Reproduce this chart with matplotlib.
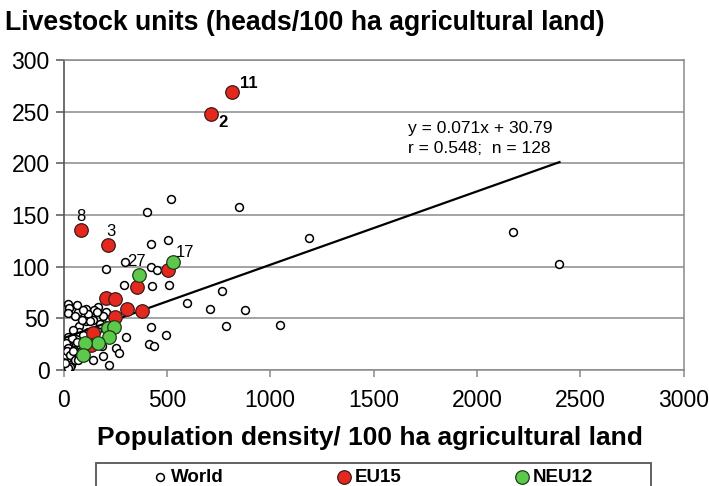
import matplotlib
matplotlib.use('Agg')
import matplotlib.pyplot as plt
from matplotlib.patches import Rectangle
import numpy as np

plt.rcParams['font.family'] = ['Liberation Sans', 'DejaVu Sans']

# world countries (hollow)
world_x = [520, 402, 849, 204, 297, 423, 504, 423, 451, 2176, 2399, 1188, 1047,
           427, 512, 765, 599, 709, 878, 423, 786, 496, 414, 439, 294, 302, 222,
           190, 254, 270, 206, 165, 149, 109, 117, 69, 20, 25, 141, 109, 77, 77,
           117, 190, 20, 45, 12, 60, 20, 52, 12, 45, 4, 36, 9, 77, 193, 64, 23,
           40, 64, 15, 31, 31, 56, 144, 185, 96, 144, 72, 0, 23, 7, 47, 128, 161,
           47, 88, 56, 96, 161, 177]
world_y = [165, 153, 158, 98, 105, 122, 126, 100, 97, 134, 103, 128, 44,
           81, 82, 76, 65, 59, 58, 42, 43, 34, 25, 23, 82, 32, 5,
           14, 21, 16, 56, 61, 58, 59, 54, 56, 64, 60, 48, 47, 43, 37,
           37, 45, 32, 29, 26, 24, 21, 19, 14.5, 13, 6.5, 5, 1.6, 14.5, 52, 63, 55,
           31, 27, 18, 15, 3, 10, 10, 23, 34, 29, 10, 3, 2, 7, 18, 47, 39,
           39, 48, 52, 58, 56, 45]

# EU15
eu15_x = [817, 712, 83, 217, 507, 355, 206, 251, 307, 380, 251, 141, 133]
eu15_y = [269, 248, 135.5, 121, 97, 80, 69.4, 68.7, 59.5, 57, 51.6, 35.5, 24]

# NEU12
neu12_x = [530, 367, 214, 246, 219, 165, 105, 93]
neu12_y = [105, 92, 41, 42, 32, 26, 26, 14.5]

# country number labels: (text, group, index)
point_labels = [('11', 'eu', 0), ('2', 'eu', 1), ('8', 'eu', 2), ('3', 'eu', 3),
                ('17', 'neu', 0), ('27', 'neu', 1)]

slope, intercept = 0.071, 30.79
r_val, n_val = 0.548, 128

fig = plt.figure(figsize=(7.09, 4.86), dpi=100)
ax = fig.add_axes([63.5/709, 116/486, 620/709, 310/486])

grey = '#8a8a8a'
ax.set_xlim(0, 3000)
ax.set_ylim(0, 300)
ax.set_xticks(np.arange(0, 3001, 500))
ax.set_yticks(np.arange(0, 301, 50))
ax.yaxis.grid(True, color=grey, lw=1.1)
ax.set_axisbelow(True)
for s in ['top', 'right', 'bottom']:
    ax.spines[s].set_color(grey)
    ax.spines[s].set_linewidth(1.1)
ax.spines['left'].set_color('#555555')
ax.spines['left'].set_linewidth(1.2)
ax.tick_params(axis='y', direction='out', length=6, width=1.1, color='#555555',
               labelsize=16.5, pad=4)
ax.tick_params(axis='x', direction='out', length=5, width=1.1, color=grey,
               labelsize=16.5, pad=9)

ax.scatter(world_x, world_y, s=32, facecolor='white', edgecolor='black',
           linewidth=1.1, zorder=3, label='World')
xx = np.array([0, 2400])
ax.plot(xx, slope*xx + intercept, color='black', lw=1.6, zorder=4)
ax.scatter(eu15_x, eu15_y, s=95, facecolor='#e5281e', edgecolor='#3a1a1a',
           linewidth=0.9, zorder=5, label='EU15')
ax.scatter(neu12_x, neu12_y, s=95, facecolor='#5cc94a', edgecolor='#1f3a1a',
           linewidth=0.9, zorder=6, label='NEU12')

offsets = {'11': (11.5, 6.5), '2': (9, -6), '8': (0, 10), '3': (2, 9.5),
           '17': (8.6, 6.5), '27': (-2, 9.5)}
for txt, grp, i in point_labels:
    px, py = (eu15_x[i], eu15_y[i]) if grp == 'eu' else (neu12_x[i], neu12_y[i])
    bold = txt in ('11', '2')
    ax.annotate(txt, (px, py), xytext=offsets[txt], textcoords='offset points',
                ha='center', va='center', fontsize=12,
                fontweight='bold' if bold else 'normal', zorder=7)

ax.text(1667, 207, 'y = %.3fx + %.2f\nr = %.3f;  n = %d' % (slope, intercept, r_val, n_val),
        fontsize=12.5, ha='left', va='bottom', linespacing=1.4)

ax.set_xlabel('Population density/ 100 ha agricultural land', fontsize=19,
              fontweight='bold')
ax.xaxis.set_label_coords(0.495, -0.18)

fig.text(5/709, 1 - 30/486, 'Livestock units (heads/100 ha agricultural land)',
         fontsize=19.2, fontweight='bold', ha='left', va='baseline')

# legend box (runs off the bottom edge like the reference)
fig.patches.append(Rectangle((96/709, -0.05), 555/709, 0.05 + 23/486,
                             transform=fig.transFigure, facecolor='white',
                             edgecolor='#555555', lw=1.3))
h, l = ax.get_legend_handles_labels()
fig.legend(h, l, loc='center', bbox_to_anchor=(373/709, 1 - 477/486), ncol=3,
           frameon=False, prop={'size': 13.5, 'weight': 'bold'},
           handlelength=0.8, handletextpad=0.2, columnspacing=6.0,
           borderpad=0, borderaxespad=0)

fig.savefig('out.png', dpi=100)
